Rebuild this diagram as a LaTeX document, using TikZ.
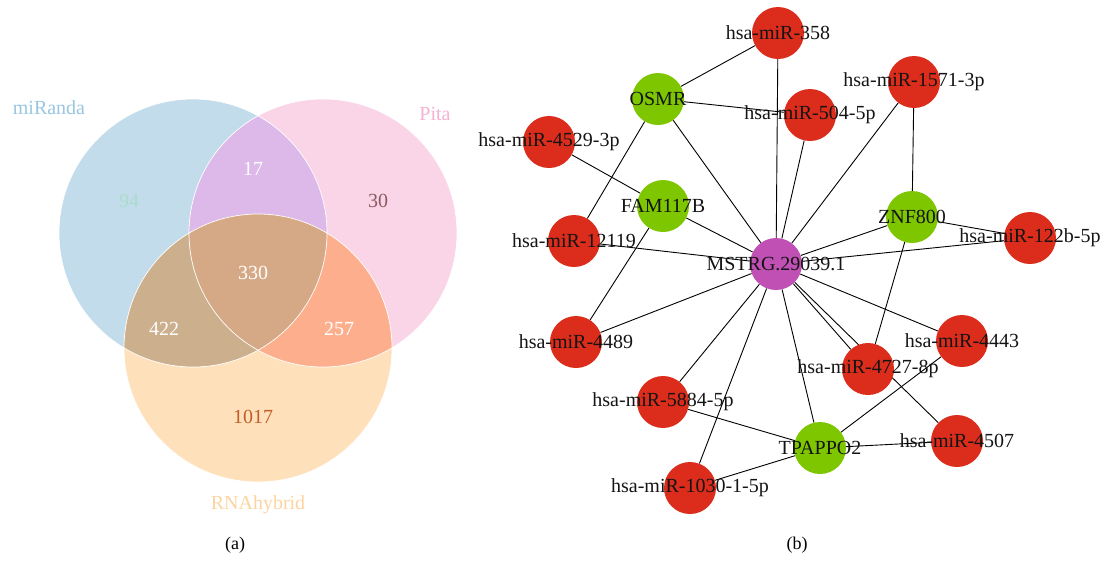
\documentclass[tikz,border=0pt]{standalone}
\usepackage{fontspec}
\setmainfont{Liberation Serif}
\usepackage{tikz}
\usetikzlibrary{shapes,arrows}
\usetikzlibrary{positioning,backgrounds}
\usetikzlibrary{calc}

\definecolor{mirandablue}{HTML}{C3DCEC}
\definecolor{pitapink}{HTML}{FAD4E7}
\definecolor{rnaorange}{HTML}{FEE1BB}
\definecolor{ovpurple}{HTML}{DCB9E9}
\definecolor{ovtan}{HTML}{CCAF8C}
\definecolor{ovsalmon}{HTML}{FDAF8D}
\definecolor{ovcenter}{HTML}{D6A986}
\definecolor{labmiranda}{HTML}{98C6E0}
\definecolor{labpita}{HTML}{F4B2D2}
\definecolor{labrna}{HTML}{FDD4A0}
\definecolor{numa}{HTML}{A9DCCB}
\definecolor{numb}{HTML}{8A5A60}
\definecolor{numc}{HTML}{C45C2A}
\definecolor{mirred}{HTML}{DB2C1C}
\definecolor{genegreen}{HTML}{7EC600}
\definecolor{lncmagenta}{HTML}{C050B4}

\begin{document}
\begin{tikzpicture}
[x=1pt,y=-1pt,
   every node/.style={font=\fontsize{20}{24}\selectfont},
   gnode/.style={circle,minimum size=52pt,inner sep=0pt,text=black!92},
   mirna/.style={gnode,fill=mirred},
   gene/.style={gnode,fill=genegreen},
   lnc/.style={gnode,fill=lncmagenta},
   link/.style={black,line width=0.9pt},
   vennline/.style={white,line width=0.7pt},
   caption/.style={font=\fontsize{18}{22}\selectfont}]
\useasboundingbox (0,0) rectangle (1110,563);

% venn (a)
\coordinate (ca) at (193,233);
\coordinate (cb) at (323,233);
\coordinate (cc) at (258,348);
\fill[mirandablue] (ca) circle (134pt);
\fill[pitapink] (cb) circle (134pt);
\fill[rnaorange] (cc) circle (134pt);
\begin{scope}
  \clip (ca) circle (134pt);
  \fill[ovpurple] (cb) circle (134pt);
  \fill[ovtan] (cc) circle (134pt);
\end{scope}
\begin{scope}
  \clip (cb) circle (134pt);
  \fill[ovsalmon] (cc) circle (134pt);
  \clip (ca) circle (134pt);
  \fill[ovcenter] (cc) circle (134pt);
\end{scope}
\draw[vennline] (ca) circle (134pt) (cb) circle (134pt) (cc) circle (134pt);

\node[text=labmiranda] (lblmiranda) at (49,108) {miRanda};
\node[text=labpita] (lblpita) at (435,114) {Pita};
\node[text=labrna] (lblrna) at (258,505) {RNAhybrid};
\node[text=numa] (nA) at (129,201) {94};
\node[text=white] (nAB) at (253,169) {17};
\node[text=numb] (nB) at (378,201) {30};
\node[text=white] (nABC) at (253,273) {330};
\node[text=white] (nAC) at (164,329) {422};
\node[text=white] (nBC) at (339,329) {257};
\node[text=numc] (nC) at (253,417) {1017};
\node[caption] (capa) at (235,545) {(a)};

% network (b)
\node[mirna] (m358) at (778,33) {\makebox[0pt]{hsa-miR-358}};
\node[gene] (osmr) at (658,99) {\makebox[0pt]{OSMR}};
\node[mirna] (m504) at (810,115) {\makebox[0pt]{hsa-miR-504-5p}};
\node[mirna] (m1571) at (914,82) {\makebox[0pt]{hsa-miR-1571-3p}};
\node[mirna] (m4529) at (549,142) {\makebox[0pt]{hsa-miR-4529-3p}};
\node[gene] (fam) at (663,206) {\makebox[0pt]{FAM117B}};
\node[gene] (znf) at (912,217) {\makebox[0pt]{ZNF800}};
\node[mirna] (m12119) at (574,241) {\makebox[0pt]{hsa-miR-12119}};
\node[mirna] (m122b) at (1030,238) {\makebox[0pt]{hsa-miR-122b-5p}};
\node[lnc] (mstrg) at (776,264) {\makebox[0pt]{MSTRG.29039.1}};
\node[mirna] (m4489) at (576,342) {\makebox[0pt]{hsa-miR-4489}};
\node[mirna] (m4443) at (962,341) {\makebox[0pt]{hsa-miR-4443}};
\node[mirna] (m4727) at (868,369) {\makebox[0pt]{hsa-miR-4727-8p}};
\node[mirna] (m5884) at (663,402) {\makebox[0pt]{hsa-miR-5884-5p}};
\node[mirna] (m4507) at (957,441) {\makebox[0pt]{hsa-miR-4507}};
\node[gene] (tpappo) at (820,448) {\makebox[0pt]{TPAPPO2}};
\node[mirna] (m1030) at (690,488) {\makebox[0pt]{hsa-miR-1030-1-5p}};
\node[caption] (capb) at (797,545) {(b)};

\begin{pgfonlayer}{background}
\foreach \a/\b in {osmr/m358, osmr/m504, osmr/mstrg, osmr/m12119, m358/mstrg,
    m504/mstrg, m1571/mstrg, m1571/znf, m4529/fam, fam/mstrg, fam/m4489,
    m12119/mstrg, znf/mstrg, znf/m122b, m122b/mstrg, znf/m4727,
    mstrg/m4489, mstrg/m5884, mstrg/m1030, mstrg/tpappo, mstrg/m4727,
    mstrg/m4507, mstrg/m4443, tpappo/m4443, tpappo/m4507, tpappo/m5884,
    tpappo/m1030}
  \draw[link] (\a) -- (\b);
\end{pgfonlayer}
\end{tikzpicture}
\end{document}
